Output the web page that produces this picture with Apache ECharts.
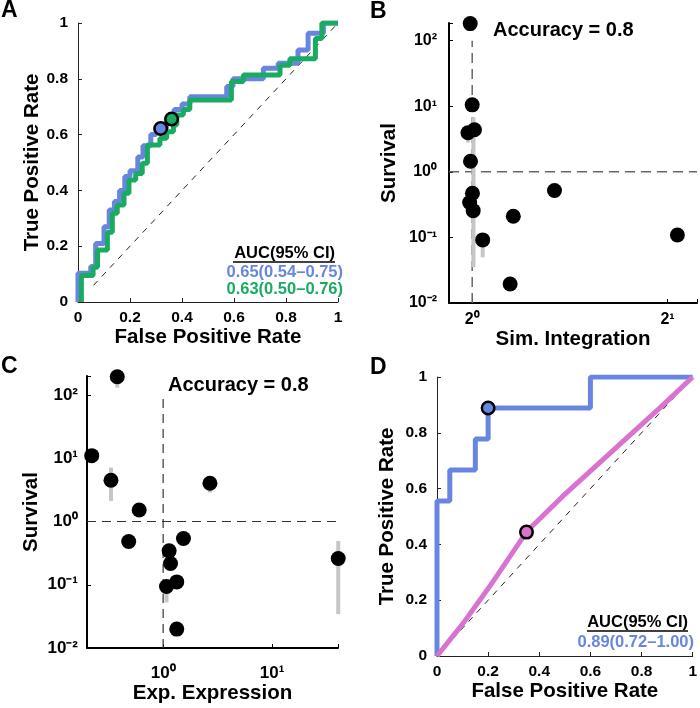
<!DOCTYPE html>
<html><head><meta charset="utf-8">
<script src="https://cdn.jsdelivr.net/npm/echarts@6/dist/echarts.min.js"></script>
<style>html,body{margin:0;padding:0;background:#fff}#c{width:700px;height:708px}</style>
</head><body><div id="c"></div>
<script>
// ---------- Panel A: ROC curves ----------
const rocA_blue = [[0,0],[0,0.103],[0.049,0.103],[0.049,0.127],[0.068,0.127],[0.068,0.21],[0.10,0.21],[0.10,0.27],[0.12,0.27],[0.12,0.33],[0.14,0.33],[0.14,0.36],[0.16,0.36],[0.16,0.40],[0.18,0.40],[0.18,0.45],[0.20,0.45],[0.20,0.47],[0.23,0.47],[0.23,0.52],[0.25,0.52],[0.25,0.56],[0.28,0.56],[0.28,0.60],[0.30,0.60],[0.30,0.622],[0.34,0.622],[0.34,0.66],[0.37,0.66],[0.37,0.69],[0.40,0.69],[0.40,0.71],[0.43,0.71],[0.43,0.736],[0.572,0.736],[0.572,0.772],[0.596,0.772],[0.596,0.80],[0.713,0.80],[0.713,0.838],[0.77,0.838],[0.77,0.856],[0.846,0.856],[0.846,0.903],[0.885,0.903],[0.885,0.963],[0.944,0.963],[0.944,1.0],[1,1.0]];
const rocA_green = [[0.013,0],[0.013,0.095],[0.058,0.095],[0.058,0.125],[0.075,0.125],[0.075,0.186],[0.113,0.186],[0.113,0.25],[0.132,0.25],[0.132,0.318],[0.151,0.318],[0.151,0.348],[0.177,0.348],[0.177,0.39],[0.196,0.39],[0.196,0.437],[0.222,0.437],[0.222,0.461],[0.247,0.461],[0.247,0.497],[0.267,0.497],[0.267,0.563],[0.315,0.563],[0.315,0.587],[0.341,0.587],[0.341,0.61],[0.367,0.61],[0.367,0.634],[0.38,0.634],[0.38,0.67],[0.405,0.67],[0.405,0.69],[0.43,0.69],[0.43,0.724],[0.59,0.724],[0.59,0.79],[0.636,0.79],[0.636,0.814],[0.777,0.814],[0.777,0.849],[0.815,0.849],[0.815,0.872],[0.913,0.872],[0.913,0.944],[0.938,0.944],[0.938,1.0],[1,1.0]];
const cutA_blue = [[0.318,0.622]];
const cutA_green = [[0.36,0.656]];
const chanceLine = [[0.06,0.06],[1,1]];
const aucTextA = ['AUC(95% CI)','0.65(0.54\u20130.75)','0.63(0.50\u20130.76)'];

// ---------- Panel B: Survival vs Sim. Integration ----------
const simIntegration = [0.993,1.0,0.985,1.008,0.994,1.001,0.991,1.0035,1.038,1.157,1.144,1.339,2.071];
const survivalB      = [182,10.5,3.94,4.38,1.45,0.471,0.34,0.256,0.0916,0.21,0.0195,0.519,0.109];
const errB = [[1.0046,0.035,6.8],[1.038,0.0497,0.0916],[0.985,2.8,3.94],[0.993,140,182]];
const refB_v = [[1,0.01],[1,100]];
const refB_h = [[0.921,1],[2.22,1]];

// ---------- Panel C: Survival vs Exp. Expression ----------
const expExpression = [0.379,0.221,0.332,0.603,0.483,2.69,1.537,1.135,1.169,1.334,1.074,1.334,40.5];
const survivalC     = [195,11.0,4.49,1.52,0.483,4.03,0.538,0.344,0.217,0.111,0.094,0.0199,0.26];
const errC = [[40.5,0.0343,0.494],[0.332,2.11,7.13],[1.074,0.0525,0.094],[0.379,131,195],[2.69,2.87,4.03]];
const refC_v = [[1,0.01],[1,100]];
const refC_h = [[0.2,1],[40.3,1]];
const accuracyText = 'Accuracy = 0.8';

// ---------- Panel D: ROC curves ----------
const rocD_blue = [[0,0],[0,0.556],[0.05,0.556],[0.05,0.667],[0.15,0.667],[0.15,0.778],[0.2,0.778],[0.2,0.889],[0.6,0.889],[0.6,1],[1,1]];
const rocD_magenta = [[0,0],[0.102,0.117],[0.205,0.248],[0.351,0.446],[0.49,0.571],[0.619,0.679],[0.748,0.786],[0.877,0.894],[1,1]];
const cutD_blue = [[0.2,0.889]];
const cutD_magenta = [[0.35,0.444]];
const aucTextD = ['AUC(95% CI)','0.89(0.72\u20131.00)'];

const F = '"Liberation Sans", Arial, Helvetica, sans-serif';
const BLUE = '#6886e0', GREEN = '#1aab62', MAG = '#d873cf', GRAYBAR = '#c6c6c6';
const TICK_FS = 15.5, NAME_FS = 20.5;
const SUP = {'0':'\u2070','1':'\u00B9','2':'\u00B2','3':'\u00B3','4':'\u2074','5':'\u2075','6':'\u2076','7':'\u2077','8':'\u2078','9':'\u2079','-':'\u207B'};

function logFmt(base){
  return function(v){
    const e = Math.log(v)/Math.log(base);
    const r = Math.round(e);
    if (Math.abs(e-r) > 1e-6) return '';
    return base + String(r).split('').map(c => SUP[c]).join('');
  };
}
const nameStyle = {fontSize:NAME_FS,fontWeight:'bold',color:'#000',fontFamily:F};

function rocAxis(gi, name, gap, margin){
  return {gridIndex:gi,type:'value',min:0,max:1,interval:0.2,name:name,nameLocation:'middle',nameGap:gap,
    nameTextStyle:nameStyle,
    axisLine:{show:true,onZero:false,lineStyle:{color:'#222',width:1}},
    axisTick:{show:true,inside:true,length:4,lineStyle:{color:'#222'}},
    axisLabel:{fontSize:TICK_FS,fontWeight:'bold',color:'#000',fontFamily:F,margin:margin},
    splitLine:{show:false}};
}
function logAxis(gi, base, min, max, name, gap, margin, fs){
  return {gridIndex:gi,type:'log',logBase:base,min:min,max:max,name:name,nameLocation:'middle',nameGap:gap,
    nameTextStyle:nameStyle,
    axisLine:{show:true,onZero:false,lineStyle:{color:'#000',width:2}},
    axisTick:{show:true,inside:true,length:4,lineStyle:{color:'#000'}},
    axisLabel:{formatter:logFmt(base),margin:margin,showMinLabel:true,showMaxLabel:true,
      fontSize:fs,fontWeight:'bold',fontFamily:F,color:'#000'},
    minorTick:{show:false},
    splitLine:{show:false}};
}
function lineS(xi, data, color, width, z, dash){
  return {type:'line',xAxisIndex:xi,yAxisIndex:xi,data:data,showSymbol:false,symbol:'none',z:z,
    lineStyle:{color:color,width:width,type:dash||'solid'},animation:false,silent:true,clip:true};
}
function cutS(xi, data, color){
  return {type:'scatter',xAxisIndex:xi,yAxisIndex:xi,data:data,symbolSize:12.5,z:20,clip:false,
    itemStyle:{color:color,borderColor:'#000',borderWidth:2.5,opacity:1},silent:true};
}
function dotS(xi, xs, ys){
  return {type:'scatter',xAxisIndex:xi,yAxisIndex:xi,data:xs.map((x,i)=>[x,ys[i]]),symbolSize:15,z:10,clip:false,
    itemStyle:{color:'#000',opacity:1},silent:true};
}
function errS(xi, data){
  return {type:'custom',xAxisIndex:xi,yAxisIndex:xi,data:data,z:3,clip:false,silent:true,
    encode:{x:0,y:[1,2]},
    renderItem:function(params, api){
      const x = api.value(0), p1 = api.coord([x, api.value(1)]), p2 = api.coord([x, api.value(2)]);
      return {type:'line',shape:{x1:p1[0],y1:p1[1],x2:p2[0],y2:p2[1]},style:{stroke:GRAYBAR,lineWidth:4}};
    }};
}
function txt(x,y,text,opt){
  return {type:'text',x:x,y:y,style:Object.assign({text:text,fontFamily:F,fontWeight:'bold',fill:'#000',fontSize:16.5},opt||{})};
}

const chart = echarts.init(document.getElementById('c'), null, {renderer:'canvas'});
chart.setOption({
  animation:false,
  backgroundColor:'#fff',
  grid:[
    {left:78, top:23, width:260, height:279},
    {left:449, top:23, width:251, height:280},
    {left:87, top:376, width:251, height:272},
    {left:437, top:377, width:258, height:279}
  ],
  xAxis:[
    rocAxis(0,'False Positive Rate',20,8),
    logAxis(1,2,0.921,2.22,'Sim. Integration',24,9,16),
    logAxis(2,10,0.2,40.3,'Exp. Expression',33,17,17),
    rocAxis(3,'False Positive Rate',23.5,8)
  ],
  yAxis:[
    rocAxis(0,'True Positive Rate',35.5,10),
    logAxis(1,10,0.01,186,'Survival',49.5,12,16),
    logAxis(2,10,0.01,200,'Survival',45,9,17),
    rocAxis(3,'True Positive Rate',39,10)
  ],
  series:[
    lineS(0, chanceLine, '#222', 1, 1, [6,6]),
    lineS(0, rocA_blue, BLUE, 5, 2),
    lineS(0, rocA_green, GREEN, 5, 3),
    cutS(0, cutA_blue, BLUE),
    cutS(0, cutA_green, GREEN),

    lineS(1, refB_v, '#666', 1.5, 1, [10,6]),
    lineS(1, refB_h, '#666', 1.5, 1, [10,6]),
    errS(1, errB),
    dotS(1, simIntegration, survivalB),

    lineS(2, refC_v, '#333', 1.2, 1, [9,6]),
    lineS(2, refC_h, '#333', 1.2, 1, [9,6]),
    errS(2, errC),
    dotS(2, expExpression, survivalC),

    lineS(3, chanceLine, '#222', 1, 1, [6,6]),
    lineS(3, rocD_blue, BLUE, 5, 2),
    lineS(3, rocD_magenta, MAG, 5, 3),
    cutS(3, cutD_blue, BLUE),
    cutS(3, cutD_magenta, MAG)
  ],
  graphic:[
    txt(1,-1,'A',{fontSize:23}),
    txt(370,0,'B',{fontSize:23}),
    txt(1,355,'C',{fontSize:23}),
    txt(370,356,'D',{fontSize:23}),
    txt(335,253,aucTextA[0],{align:'right',verticalAlign:'middle'}),
    {type:'line',shape:{x1:233,y1:262,x2:335,y2:262},style:{stroke:'#000',lineWidth:1.3}},
    txt(343,272,aucTextA[1],{align:'right',verticalAlign:'middle',fill:BLUE}),
    txt(343,289,aucTextA[2],{align:'right',verticalAlign:'middle',fill:GREEN}),
    txt(688,622,aucTextD[0],{align:'right',verticalAlign:'middle'}),
    {type:'line',shape:{x1:587,y1:631,x2:688,y2:631},style:{stroke:'#000',lineWidth:1.3}},
    txt(694,642,aucTextD[1],{align:'right',verticalAlign:'middle',fill:BLUE}),
    txt(493,30,accuracyText,{verticalAlign:'middle',fontSize:20}),
    txt(168,385,accuracyText,{verticalAlign:'middle',fontSize:20})
  ]
});
</script></body></html>
